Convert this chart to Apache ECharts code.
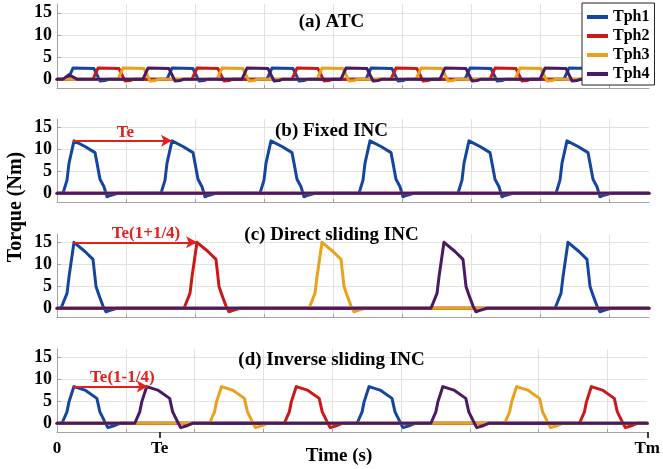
<!DOCTYPE html>
<html><head><meta charset="utf-8">
<script src="https://cdn.jsdelivr.net/npm/echarts@6/dist/echarts.min.js"></script>
<style>html,body{margin:0;padding:0;background:#fff}#c{width:663px;height:469px}</style>
</head><body><div id="c"></div>
<script>
// ---- axis values (time in arbitrary sample units, 0 .. Tm) ----
const T_MAX = 592;
const TE = 103;
const gridTimes = [69, 138, 207, 276, 345, 414, 483, 552];
const torqueTicks = [0, 5, 10, 15];
const timeLabelValues = [0, TE, T_MAX];
const timeLabelTexts = ['0', 'Te', 'Tm'];
const phaseNames = ['Tph1', 'Tph2', 'Tph3', 'Tph4'];
const panelTitles = ['(a) ATC', '(b) Fixed INC', '(c) Direct sliding INC', '(d) Inverse sliding INC'];

// ---- (a) ATC ----
const tph1A = [[0,0],[11,0],[16,2.5],[37,2.4],[43,-0.4],[48,-0.3],[52,0],[110,0],[115,2.5],[136,2.4],[142,-0.4],[147,-0.3],[151,0],[210,0],[215,2.5],[236,2.4],[242,-0.4],[247,-0.3],[251,0],[309,0],[314,2.5],[335,2.4],[341,-0.4],[346,-0.3],[350,0],[408,0],[413,2.5],[434,2.4],[440,-0.4],[445,-0.3],[449,0],[507,0],[512,2.5],[533,2.4],[539,-0.4],[544,-0.3],[548,0],[592,0]];
const tph2A = [[0,0],[36,0],[41,2.5],[62,2.4],[68,-0.4],[73,-0.3],[77,0],[135,0],[140,2.5],[161,2.4],[167,-0.4],[172,-0.3],[176,0],[235,0],[240,2.5],[261,2.4],[267,-0.4],[272,-0.3],[276,0],[334,0],[339,2.5],[360,2.4],[366,-0.4],[371,-0.3],[375,0],[433,0],[438,2.5],[459,2.4],[465,-0.4],[470,-0.3],[474,0],[532,0],[537,2.5],[558,2.4],[564,-0.4],[569,-0.3],[573,0],[592,0]];
const tph3A = [[0,0],[61,0],[66,2.5],[87,2.4],[93,-0.4],[98,-0.3],[102,0],[160,0],[165,2.5],[186,2.4],[192,-0.4],[197,-0.3],[201,0],[260,0],[265,2.5],[286,2.4],[292,-0.4],[297,-0.3],[301,0],[359,0],[364,2.5],[385,2.4],[391,-0.4],[396,-0.3],[400,0],[458,0],[463,2.5],[484,2.4],[490,-0.4],[495,-0.3],[499,0],[557,0],[562,2.5],[583,2.4],[589,-0.4],[592,-0.3]];
const tph4A = [[0,0],[6,0],[12,1],[20,0],[86,0],[91,2.5],[112,2.4],[118,-0.4],[123,-0.3],[127,0],[185,0],[190,2.5],[211,2.4],[217,-0.4],[222,-0.3],[226,0],[284,0],[289,2.5],[310,2.4],[316,-0.4],[321,-0.3],[325,0],[383,0],[388,2.5],[409,2.4],[415,-0.4],[420,-0.3],[424,0],[483,0],[488,2.5],[509,2.4],[515,-0.4],[520,-0.3],[524,0],[582,0],[587,2.5],[592,2.5]];

// ---- (b) Fixed INC ----
const tph1B = [[0,0],[6,0],[10,3],[12,6.9],[17,12],[28,10.7],[38,9.3],[40,6.9],[43,3.2],[47,1.5],[50,-0.8],[53,-0.5],[61,0],
  [104,0],[108,3],[110,6.9],[115,12],[126,10.7],[136,9.3],[138,6.9],[141,3.2],[145,1.5],[148,-0.8],[151,-0.5],[159,0],
  [203,0],[207,3],[209,6.9],[214,12],[225,10.7],[235,9.3],[237,6.9],[240,3.2],[244,1.5],[247,-0.8],[250,-0.5],[258,0],
  [302,0],[306,3],[308,6.9],[313,12],[324,10.7],[334,9.3],[336,6.9],[339,3.2],[343,1.5],[346,-0.8],[349,-0.5],[357,0],
  [401,0],[405,3],[407,6.9],[412,12],[423,10.7],[433,9.3],[435,6.9],[438,3.2],[442,1.5],[445,-0.8],[448,-0.5],[456,0],
  [499,0],[503,3],[505,6.9],[510,12],[521,10.7],[531,9.3],[533,6.9],[536,3.2],[540,1.5],[543,-0.8],[546,-0.5],[554,0],[592,0]];
const tph2B = [[0,0],[592,0]];
const tph3B = [[0,0],[592,0]];
const tph4B = [[0,0],[592,0]];

// ---- (c) Direct sliding INC ----
const tph1C = [[0,0],[4,0],[10,3.4],[12,7.2],[17,15.1],[28,13],[36,11.2],[39,5],[42,3],[46,0.5],[49,-0.8],[53,-0.5],[60,0],
  [498,0],[504,3.4],[506,7.2],[511,15.1],[522,13],[530,11.2],[533,5],[536,3],[540,0.5],[543,-0.8],[547,-0.5],[554,0],[592,0]];
const tph2C = [[0,0],[127,0],[133,3.4],[135,7.2],[140,15.1],[151,13],[159,11.2],[162,5],[165,3],[169,0.5],[172,-0.8],[176,-0.5],[183,0],[592,0]];
const tph3C = [[0,0],[252,0],[258,3.4],[260,7.2],[265,15.1],[276,13],[284,11.2],[287,5],[290,3],[294,0.5],[297,-0.8],[301,-0.5],[308,0],[592,0]];
const tph4C = [[0,0],[374,0],[380,3.4],[382,7.2],[387,15.1],[398,13],[406,11.2],[409,5],[412,3],[416,0.5],[419,-0.8],[423,-0.5],[430,0],[592,0]];

// ---- (d) Inverse sliding INC ----
const tph1D = [[0,0],[5,0],[10,2.6],[12,4.9],[17,8.4],[28,7.6],[40,5.7],[43,2.6],[48,0.3],[51,-1],[58,-0.5],[63,0],
  [301,0],[306,2.6],[308,4.9],[313,8.4],[324,7.6],[336,5.7],[339,2.6],[344,0.3],[347,-1],[354,-0.5],[359,0],[592,0]];
const tph2D = [[0,0],[228,0],[233,2.6],[235,4.9],[240,8.4],[251,7.6],[263,5.7],[266,2.6],[271,0.3],[274,-1],[281,-0.5],[286,0],
  [524,0],[529,2.6],[531,4.9],[536,8.4],[547,7.6],[559,5.7],[562,2.6],[567,0.3],[570,-1],[577,-0.5],[582,0],[592,0]];
const tph3D = [[0,0],[153,0],[158,2.6],[160,4.9],[165,8.4],[176,7.6],[188,5.7],[191,2.6],[196,0.3],[199,-1],[206,-0.5],[211,0],
  [449,0],[454,2.6],[456,4.9],[461,8.4],[472,7.6],[484,5.7],[487,2.6],[492,0.3],[495,-1],[502,-0.5],[507,0],[592,0]];
const tph4D = [[0,0],[78,0],[83,2.6],[85,4.9],[90,8.4],[101,7.6],[113,5.7],[116,2.6],[121,0.3],[124,-1],[131,-0.5],[136,0],
  [375,0],[380,2.6],[382,4.9],[387,8.4],[398,7.6],[410,5.7],[413,2.6],[418,0.3],[421,-1],[428,-0.5],[433,0],[592,0]];

// ---- red period annotations (panels b, c, d) ----
const arrowPanels = [1, 2, 3];
const arrowTimes = [[16, 115], [16, 140], [16, 91]];
const arrowLevels = [12, 15.1, 8.4];
const arrowTexts = ['Te', 'Te(1+1/4)', 'Te(1-1/4)'];

const panelData = [
  [tph1A, tph2A, tph3A, tph4A],
  [tph1B, tph2B, tph3B, tph4B],
  [tph1C, tph2C, tph3C, tph4C],
  [tph1D, tph2D, tph3D, tph4D]
];

// ---- styling ----
const FONT = '"Liberation Serif","Times New Roman",serif';
const COLORS = ['#1446a0', '#cc1818', '#e9a21a', '#4a1a64'];
const GRID_TOPS = [4, 119, 234, 349];
const GRID_H = [84, 83, 83, 83];
const TITLE_TOPS = [13, 122, 226, 351];
const GRID_LINE = '#e2e2e2';
const AXIS_GREY = '#a3a3a3';
const labelOffsets = [[3, 0], [11, 0], [12, 0]];

const grid = GRID_TOPS.map((t, i) => ({ left: 57, right: 14, top: t, height: GRID_H[i] }));

const xAxis = GRID_TOPS.map((t, i) => ({
  type: 'value', gridIndex: i, min: 0, max: T_MAX, position: 'bottom',
  axisLine: { show: true, onZero: false, lineStyle: { color: AXIS_GREY, width: 1 } },
  axisTick: { show: true, inside: true, length: 3, customValues: gridTimes, lineStyle: { color: AXIS_GREY } },
  axisLabel: { show: false },
  splitLine: { show: true, lineStyle: { color: GRID_LINE, width: 1 } }
}));
// labelled time axis of the bottom panel (0, Te, Tm)
xAxis.push({
  type: 'value', gridIndex: 3, min: 0, max: T_MAX, position: 'top', offset: -GRID_H[3],
  axisLine: { show: false },
  splitLine: { show: false },
  axisTick: { show: true, inside: true, length: 6, customValues: [TE, T_MAX], lineStyle: { color: '#000', width: 1.5 } },
  axisLabel: {
    show: true, inside: true, margin: 8, customValues: timeLabelValues,
    formatter: v => timeLabelTexts[timeLabelValues.indexOf(v)],
    fontFamily: FONT, fontWeight: 'bold', fontSize: 17, color: '#000'
  }
});

const yAxis = GRID_TOPS.map((t, i) => ({
  type: 'value', gridIndex: i, min: -2, max: 17,
  axisLine: { show: true, lineStyle: { color: AXIS_GREY, width: 1 } },
  axisTick: { show: true, inside: true, length: 4, customValues: torqueTicks, lineStyle: { color: AXIS_GREY } },
  axisLabel: { show: true, customValues: torqueTicks, margin: 5, fontFamily: FONT, fontWeight: 'bold', fontSize: 18, color: '#000' },
  splitLine: { show: true, lineStyle: { color: GRID_LINE, width: 1 } }
}));

const series = [];
panelData.forEach((phases, i) => {
  phases.forEach((d, j) => {
    series.push({
      type: 'line', name: phaseNames[j], xAxisIndex: i, yAxisIndex: i, data: d,
      showSymbol: false, symbol: 'none', smooth: false,
      lineStyle: { width: 3, color: COLORS[j], join: 'round', cap: 'round' },
      itemStyle: { color: COLORS[j] }
    });
  });
});
arrowPanels.forEach((p, k) => {
  series.push({
    type: 'line', name: 'period' + k, xAxisIndex: p, yAxisIndex: p, data: [],
    markLine: {
      silent: true, symbol: ['none', 'arrow'], symbolSize: [9, 11],
      lineStyle: { color: '#e3201b', width: 2, type: 'solid' },
      label: {
        show: true, position: 'middle', distance: 0, offset: labelOffsets[k],
        formatter: arrowTexts[k], color: '#e3201b', fontFamily: FONT, fontWeight: 'bold', fontSize: 17
      },
      data: [[{ coord: [arrowTimes[k][0], arrowLevels[k]] }, { coord: [arrowTimes[k][1], arrowLevels[k]] }]]
    }
  });
});

const title = panelTitles.map((t, i) => ({
  text: t, left: 'center', top: TITLE_TOPS[i], padding: 0,
  textStyle: { fontFamily: FONT, fontWeight: 'bold', fontSize: 19, color: '#000' }
}));

const chart = echarts.init(document.getElementById('c'), null, { renderer: 'canvas' });
chart.setOption({
  animation: false,
  backgroundColor: '#fff',
  title,
  grid, xAxis, yAxis, series,
  legend: {
    data: phaseNames, orient: 'vertical', left: 582, top: 3, z: 20,
    padding: [6, 5, 3, 5], itemWidth: 21, itemHeight: 4, itemGap: 3, icon: 'rect',
    borderColor: '#222', borderWidth: 1, backgroundColor: '#fff',
    textStyle: { fontFamily: FONT, fontWeight: 'bold', fontSize: 16, lineHeight: 16, color: '#000' }
  },
  graphic: [
    { type: 'text', x: 16, y: 207, rotation: Math.PI / 2,
      style: { text: 'Torque (Nm)', font: 'bold 20px ' + FONT, textAlign: 'center', textVerticalAlign: 'middle', align: 'center', verticalAlign: 'middle', fill: '#000' } },
    { type: 'text', x: 339, y: 456,
      style: { text: 'Time (s)', font: 'bold 19px ' + FONT, textAlign: 'center', textVerticalAlign: 'middle', align: 'center', verticalAlign: 'middle', fill: '#000' } }
  ]
});
</script></body></html>
